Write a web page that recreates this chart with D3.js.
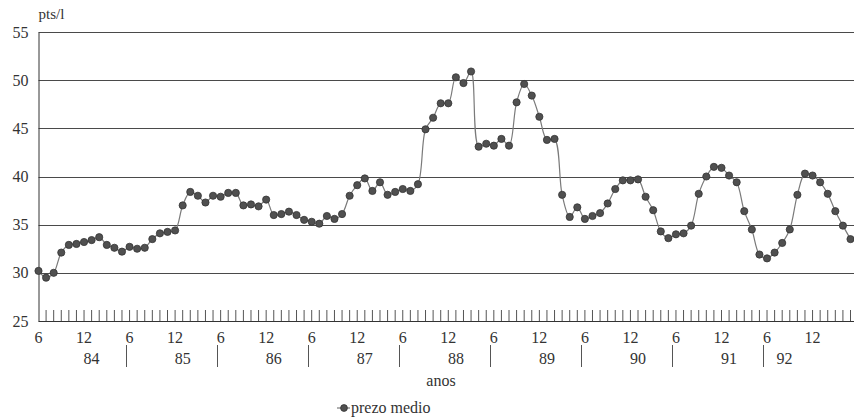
<!DOCTYPE html>
<html>
<head>
<meta charset="utf-8">
<script src="https://cdn.jsdelivr.net/npm/d3@7"></script>
<style>
  html, body { margin: 0; padding: 0; background: #ffffff; }
  svg { display: block; }
  svg text { font-family: "Liberation Serif", "Times New Roman", Times, "DejaVu Serif", "Noto Serif", serif !important; fill: #333; }
</style>
</head>
<body>
<svg id="chart" width="854" height="417"></svg>
<script>
// ---- data ----
const startYear = 1984;
const startMonth = 6;
const monthTickLabels = ["6", "12"];
const yearLabels = ["84", "85", "86", "87", "88", "89", "90", "91", "92"];
const yTicks = [25, 30, 35, 40, 45, 50, 55];
const seriesName = "prezo medio";
const prezoMedio = [
  30.2, 29.5, 30.0, 32.1, 32.9, 33.0, 33.2, 33.4, 33.7, 32.9, 32.6, 32.2,
  32.7, 32.5, 32.6, 33.5, 34.1, 34.25, 34.4, 37.0, 38.4, 38.0, 37.3, 38.0,
  37.9, 38.3, 38.3, 37.0, 37.1, 36.9, 37.6, 36.0, 36.1, 36.35, 36.0, 35.5,
  35.3, 35.1, 35.9, 35.6, 36.1, 38.0, 39.1, 39.8, 38.5, 39.4, 38.1, 38.4,
  38.7, 38.5, 39.2, 44.9, 46.1, 47.6, 47.6, 50.3, 49.7, 50.9, 43.1, 43.4,
  43.2, 43.9, 43.2, 47.7, 49.6, 48.4, 46.2, 43.8, 43.9, 38.1, 35.8, 36.8,
  35.6, 35.9, 36.2, 37.2, 38.7, 39.6, 39.6, 39.7, 37.9, 36.5, 34.3, 33.6,
  34.0, 34.1, 34.9, 38.2, 40.0, 41.0, 40.9, 40.1, 39.4, 36.4, 34.5, 31.9,
  31.5, 32.1, 33.1, 34.5, 38.1, 40.3, 40.1, 39.4, 38.2, 36.4, 34.9, 33.5
];

// categories (month numbers) derived from the start date
const categories = prezoMedio.map((v, i) => {
  const m = ((startMonth - 1 + i) % 12) + 1;
  const y = startYear + Math.floor((startMonth - 1 + i) / 12);
  return { i, month: m, year: y, value: v };
});

// ---- layout ----
const svg = d3.select("#chart");
const plotLeft = 38.5, plotRight = 854, plotTop = 32, plotBottom = 321;
const x = d3.scaleLinear().domain([0, prezoMedio.length - 1]).range([38.5, 850.5]);
const y = d3.scaleLinear().domain([25, 55]).range([plotBottom, plotTop]);

const gridColor = "#4a4a4a";
const serif = "'Liberation Serif', 'Times New Roman', Times, 'DejaVu Serif', 'Noto Serif', serif";

// gridlines
svg.append("g").selectAll("line")
  .data(yTicks.filter(t => t > 25))
  .join("line")
  .attr("x1", plotLeft).attr("x2", plotRight)
  .attr("y1", d => Math.round(y(d)) + 0.5).attr("y2", d => Math.round(y(d)) + 0.5)
  .attr("stroke", gridColor).attr("stroke-width", 1);

// y axis
const yAxis = d3.axisLeft(y).tickValues(yTicks).tickSize(0).tickPadding(10);
const gy = svg.append("g").attr("transform", `translate(${plotLeft},0)`).call(yAxis)
  .attr("font-family", serif);
gy.select(".domain").attr("stroke", "#333");
gy.selectAll("text").attr("font-size", 16).attr("fill", "#333");

// unit label
svg.append("text").attr("x", plotLeft).attr("y", 19).attr("font-size", 15).text("pts/l");

// x axis baseline
svg.append("line")
  .attr("x1", plotLeft).attr("x2", plotRight)
  .attr("y1", plotBottom + 0.5).attr("y2", plotBottom + 0.5)
  .attr("stroke", "#333");

// minor month ticks (inside plot)
svg.append("g").selectAll("line")
  .data(categories.filter(d => d.i > 0))
  .join("line")
  .attr("x1", d => x(d.i)).attr("x2", d => x(d.i))
  .attr("y1", plotBottom - 11).attr("y2", plotBottom)
  .attr("stroke", "#555").attr("stroke-width", 1);

// month labels (6 and 12)
svg.append("g").selectAll("text")
  .data(categories.filter(d => monthTickLabels.includes(String(d.month))))
  .join("text")
  .attr("x", d => x(d.i)).attr("y", 343)
  .attr("text-anchor", "middle").attr("font-size", 16)
  .text(d => String(d.month));

// year separators (between May and June)
svg.append("g").selectAll("line")
  .data(categories.filter(d => d.month === startMonth && d.i > 0))
  .join("line")
  .attr("x1", d => Math.round((x(d.i) + x(d.i - 1)) / 2) + 0.5)
  .attr("x2", d => Math.round((x(d.i) + x(d.i - 1)) / 2) + 0.5)
  .attr("y1", 345).attr("y2", 367)
  .attr("stroke", "#555");

// year labels
const groupStarts = categories.filter(d => d.month === startMonth);
svg.append("g").selectAll("text")
  .data(groupStarts)
  .join("text")
  .attr("x", (d, k) => {
    const offs = k < groupStarts.length - 1 ? 7 : 2.3;
    return x(d.i + offs);
  })
  .attr("y", 364)
  .attr("text-anchor", "middle").attr("font-size", 16)
  .text((d, k) => yearLabels[k]);

// axis title
svg.append("text").attr("x", 441).attr("y", 386).attr("text-anchor", "middle")
  .attr("font-size", 16).text("anos");

// series line
const line = d3.line()
  .x(d => x(d.i)).y(d => y(d.value))
  .curve(d3.curveCatmullRom.alpha(0.5));
svg.append("path").datum(categories)
  .attr("d", line).attr("fill", "none")
  .attr("stroke", "#7a7a7a").attr("stroke-width", 1.2);

// markers
svg.append("g").selectAll("circle")
  .data(categories)
  .join("circle")
  .attr("cx", d => x(d.i)).attr("cy", d => y(d.value))
  .attr("r", 3.6)
  .attr("fill", "#505050").attr("stroke", "#333").attr("stroke-width", 0.8);

// legend
const lg = svg.append("g").attr("transform", "translate(344,408)");
lg.append("line").attr("x1", -7).attr("x2", 6).attr("y1", 0).attr("y2", 0)
  .attr("stroke", "#7a7a7a").attr("stroke-width", 1.2);
lg.append("circle").attr("r", 3.4).attr("fill", "#505050").attr("stroke", "#333").attr("stroke-width", 0.8);
lg.append("text").attr("x", 7).attr("y", 5).attr("font-size", 16).text(seriesName);

svg.selectAll("text").attr("font-family", serif);
</script>
</body>
</html>
